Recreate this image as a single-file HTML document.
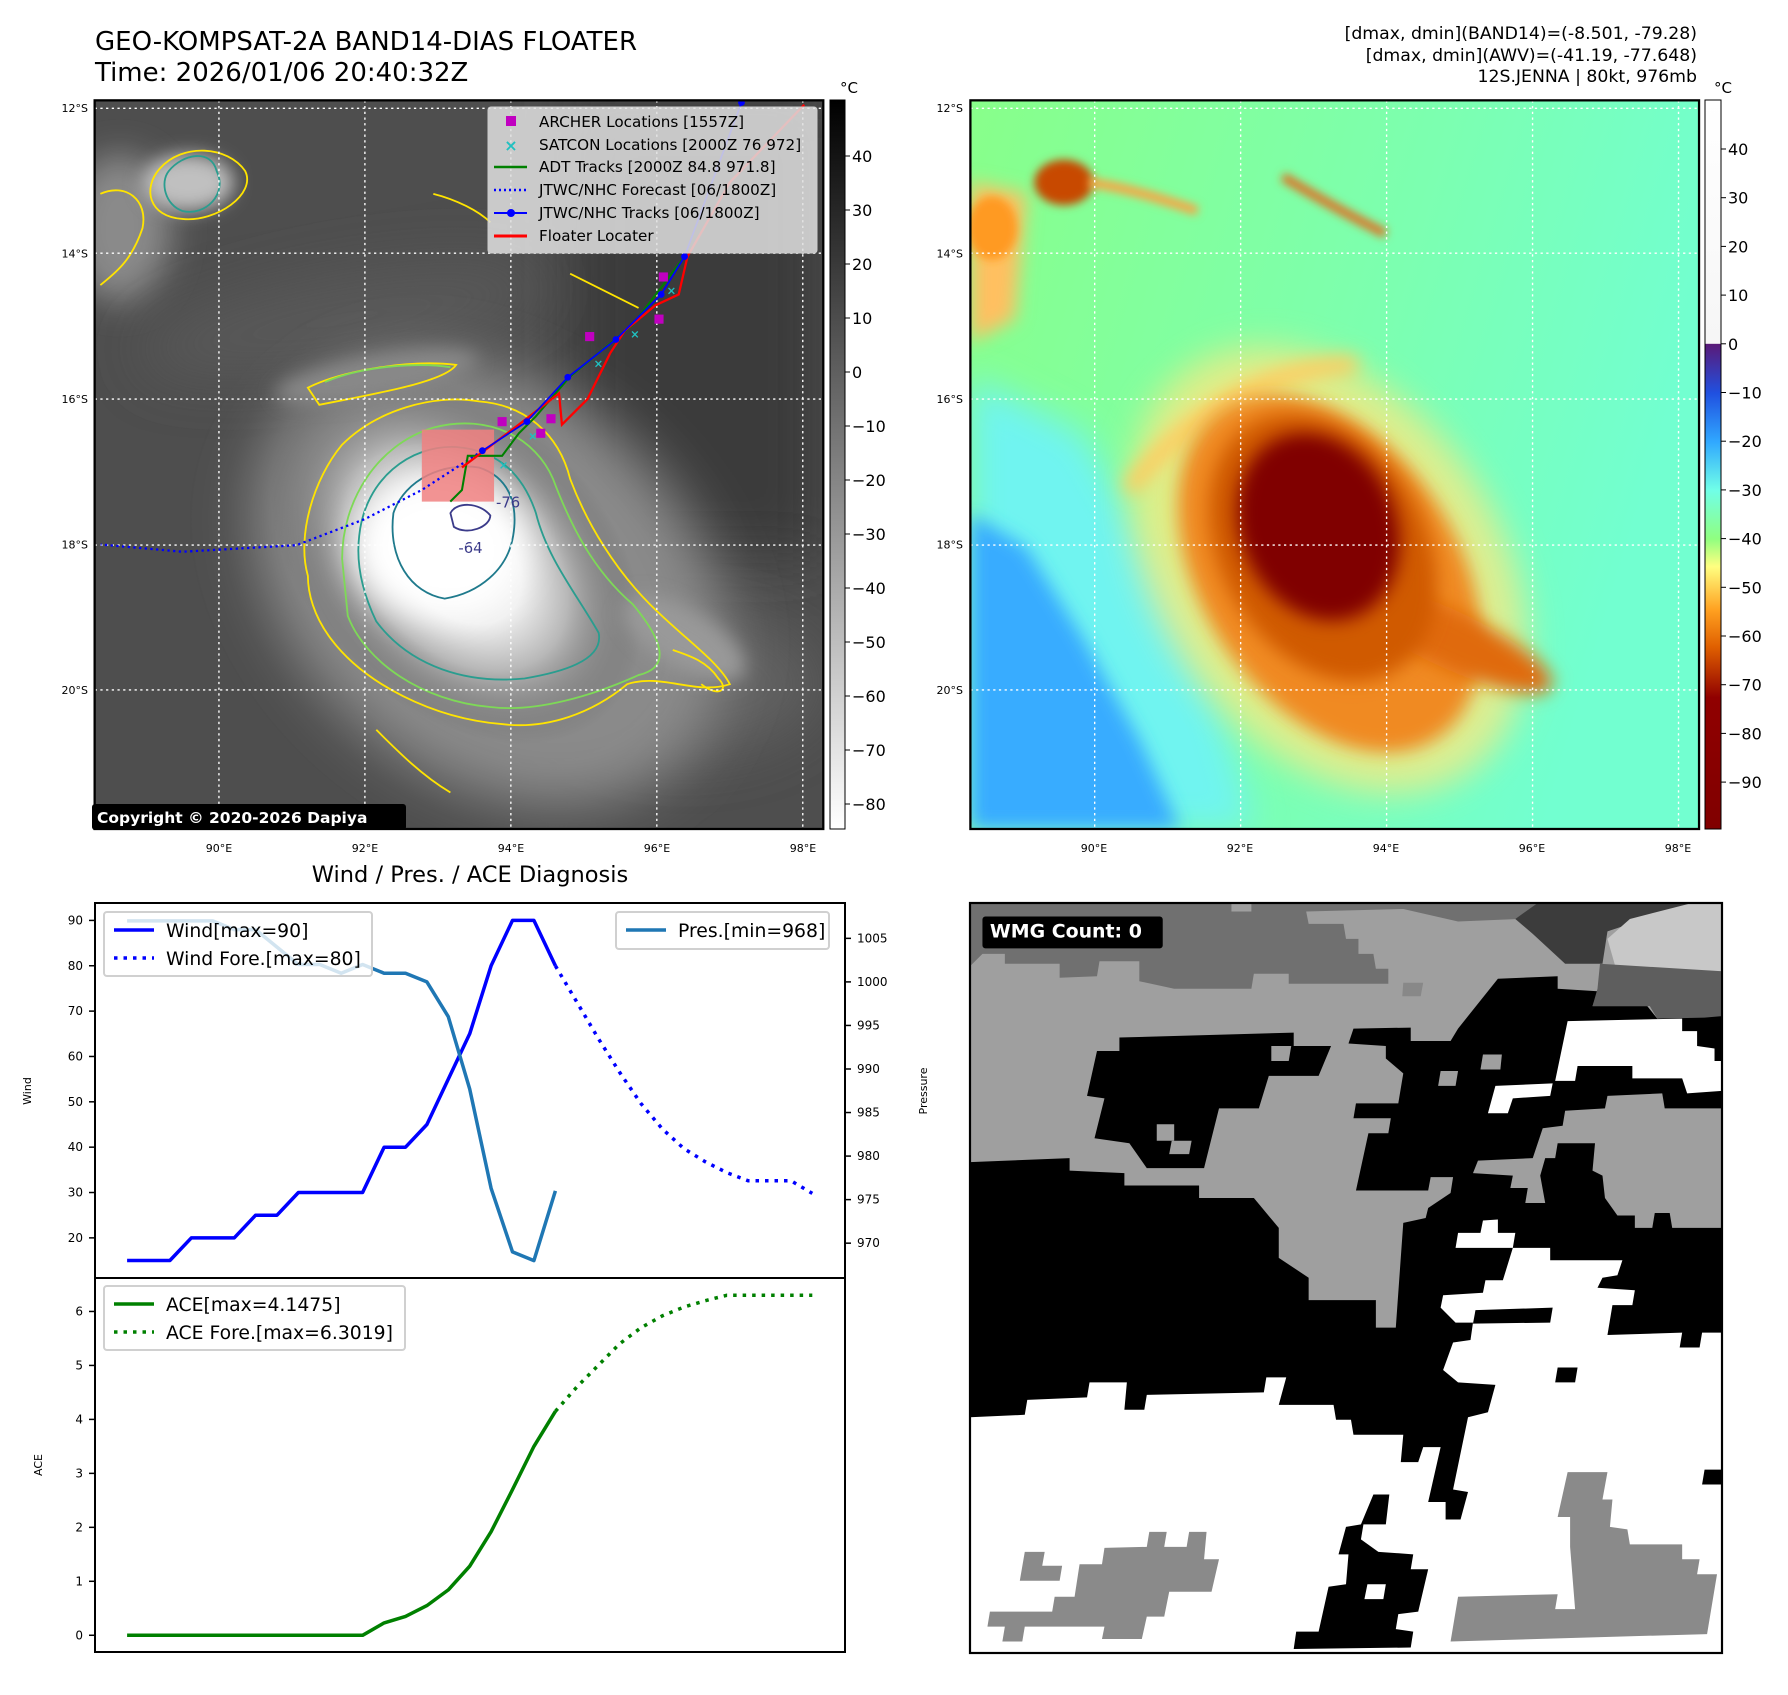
<!DOCTYPE html>
<html><head><meta charset="utf-8"><style>
html,body{margin:0;padding:0;background:#fff;}
svg text{font-family:"DejaVu Sans","Liberation Sans",sans-serif;}
</style></head><body>
<svg id="root" width="1788" height="1690" viewBox="0 0 1788 1690" xmlns="http://www.w3.org/2000/svg">
<defs>
 <filter id="b4" x="-60%" y="-60%" width="220%" height="220%"><feGaussianBlur stdDeviation="4"/></filter>
 <filter id="b8" x="-60%" y="-60%" width="220%" height="220%"><feGaussianBlur stdDeviation="8"/></filter>
 <filter id="b15" x="-60%" y="-60%" width="220%" height="220%"><feGaussianBlur stdDeviation="15"/></filter>
 <filter id="b25" x="-60%" y="-60%" width="220%" height="220%"><feGaussianBlur stdDeviation="25"/></filter>
 <clipPath id="c1"><rect x="83" y="88" width="639" height="639"/></clipPath>
 <clipPath id="c2"><rect x="851" y="88" width="639" height="639"/></clipPath>
 <radialGradient id="storm" cx="0.5" cy="0.5" r="0.5">
  <stop offset="0" stop-color="#ffffff"/><stop offset="0.35" stop-color="#f0f0f0"/>
  <stop offset="0.6" stop-color="#b8b8b8"/><stop offset="1" stop-color="#5a5a5a" stop-opacity="0"/>
 </radialGradient>
 <linearGradient id="cb1" x1="0" y1="0" x2="0" y2="1"><stop offset="0" stop-color="#000"/><stop offset="1" stop-color="#fff"/></linearGradient>
 <linearGradient id="cb2" x1="0" y1="0" x2="0" y2="1">
  <stop offset="0" stop-color="#ffffff"/><stop offset="0.334" stop-color="#f6f6f6"/>
  <stop offset="0.335" stop-color="#5a1a78"/><stop offset="0.402" stop-color="#2050e0"/>
  <stop offset="0.469" stop-color="#30a8ff"/><stop offset="0.535" stop-color="#70ffe8"/>
  <stop offset="0.602" stop-color="#90ff80"/><stop offset="0.64" stop-color="#ffff80"/>
  <stop offset="0.7" stop-color="#ffa020"/><stop offset="0.75" stop-color="#e06000"/>
  <stop offset="0.82" stop-color="#900000"/><stop offset="1" stop-color="#800000"/>
 </linearGradient>
 <linearGradient id="bg2" x1="0" y1="0" x2="1" y2="0.3">
  <stop offset="0" stop-color="#88ff8a"/><stop offset="0.6" stop-color="#7cffb0"/><stop offset="1" stop-color="#72ffd0"/>
 </linearGradient>
</defs>

<text x="95" y="50" font-size="26">GEO-KOMPSAT-2A BAND14-DIAS FLOATER</text>
<text x="95" y="81" font-size="26">Time: 2026/01/06 20:40:32Z</text>
<g font-size="17.3" text-anchor="end">
 <text x="1697" y="39">[dmax, dmin](BAND14)=(-8.501, -79.28)</text>
 <text x="1697" y="61">[dmax, dmin](AWV)=(-41.19, -77.648)</text>
 <text x="1697" y="82">12S.JENNA | 80kt, 976mb</text>
</g>

<g transform="scale(1.1403)">
 <g clip-path="url(#c1)">
  <rect x="83" y="88" width="639" height="639" fill="#4e4e4e"/>
  <rect x="500" y="88" width="222" height="400" fill="#3a3a3a" filter="url(#b25)"/>
  <ellipse cx="600" cy="600" rx="120" ry="60" fill="#606060" filter="url(#b25)"/>
  <ellipse cx="105" cy="200" rx="45" ry="65" fill="#8a8a8a" filter="url(#b15)"/>
  <ellipse cx="165" cy="160" rx="40" ry="25" fill="#c0c0c0" filter="url(#b8)"/>
  <ellipse cx="300" cy="280" rx="180" ry="40" fill="#585858" filter="url(#b25)" transform="rotate(-10 300 280)"/>
  <ellipse cx="430" cy="510" rx="230" ry="170" fill="#8a8a8a" filter="url(#b25)" transform="rotate(40 430 510)"/>
  <ellipse cx="400" cy="490" rx="190" ry="130" fill="url(#storm)" transform="rotate(45 400 490)"/>
  <ellipse cx="385" cy="480" rx="75" ry="60" fill="#fff" filter="url(#b15)"/>
  <ellipse cx="330" cy="330" rx="90" ry="18" fill="#888" filter="url(#b8)" transform="rotate(-10 330 330)"/>
  <ellipse cx="600" cy="560" rx="60" ry="25" fill="#999" filter="url(#b8)" transform="rotate(30 600 560)"/>
  <g fill="none" stroke-width="1.6">
   <path d="M270,505 C260,470 275,420 300,390 C330,360 380,345 420,352 C460,355 490,380 500,420 C515,460 540,500 570,530 C600,560 630,580 640,600 C610,610 580,590 550,600 C520,625 480,640 440,635 C380,630 320,600 290,560 C275,540 270,520 270,505 Z" stroke="#ffe400"/>
   <path d="M300,490 C300,440 330,390 380,375 C430,362 470,385 485,420 C500,460 520,500 555,530 C580,560 590,585 560,592 C520,610 470,625 430,620 C370,615 320,580 305,540 Z" stroke="#7ed957"/>
   <path d="M315,470 C320,420 360,390 400,392 C440,395 460,420 470,450 C480,490 505,520 525,555 C530,580 490,590 460,595 C410,600 360,585 330,545 C318,520 312,495 315,470 Z" stroke="#2a9d8f"/>
   <path d="M345,450 C355,420 390,405 420,410 C445,418 455,440 450,470 C445,500 420,520 390,525 C360,520 340,490 345,450 Z" stroke="#1f7a8c"/>
   <path d="M395,450 C400,440 420,440 430,452 C430,462 410,470 398,462 Z" stroke="#3b3b8a"/>
   <path d="M148,150 C160,135 185,130 190,150 C200,170 180,190 160,185 C145,180 140,160 148,150 Z" stroke="#2a9d8f"/>
   <path d="M140,148 C160,125 200,128 215,150 C225,170 190,195 160,192 C130,190 125,165 140,148 Z" stroke="#ffe400"/>
   <path d="M88,170 C110,160 130,175 125,200 C115,230 100,240 88,250" stroke="#ffe400"/>
   <path d="M270,340 C300,325 360,315 400,320 C390,335 330,345 280,355 Z" stroke="#ffe400"/>
   <path d="M285,335 C320,320 370,318 395,322" stroke="#7ed957"/>
   <path d="M380,170 C400,175 420,185 430,195 M500,240 C520,250 540,260 560,270" stroke="#ffe400"/>
   <path d="M590,570 C605,575 620,580 630,595 C640,605 630,612 615,600" stroke="#ffe400"/>
   <path d="M330,640 C350,660 370,680 395,695" stroke="#ffe400"/>
  </g>
  <text x="402" y="485" font-size="13" fill="#3b3b8a">-64</text>
  <text x="435" y="445" font-size="13" fill="#3b3b8a">-76</text>
  <g stroke="#fff" stroke-width="1.2" stroke-dasharray="2,3">
   <line x1="192" y1="88" x2="192" y2="727"/><line x1="320" y1="88" x2="320" y2="727"/><line x1="448" y1="88" x2="448" y2="727"/><line x1="576" y1="88" x2="576" y2="727"/><line x1="704" y1="88" x2="704" y2="727"/>
   <line x1="83" y1="95" x2="722" y2="95"/><line x1="83" y1="222" x2="722" y2="222"/><line x1="83" y1="350" x2="722" y2="350"/><line x1="83" y1="478" x2="722" y2="478"/><line x1="83" y1="605" x2="722" y2="605"/>
  </g>
  <g id="tracks"></g>
 </g>
 <rect x="83" y="88" width="639" height="639" fill="none" stroke="#000" stroke-width="2"/>
 <g clip-path="url(#c2)">
  <rect x="851" y="88" width="639" height="639" fill="url(#bg2)"/>
  <polygon points="851,330 950,380 1030,520 1070,620 1100,727 851,727" fill="#70f4f0" filter="url(#b15)"/>
  <polygon points="851,450 900,480 950,560 1000,650 1035,727 851,727" fill="#38acff" filter="url(#b8)"/>
  <polygon points="851,160 900,170 890,280 851,300" fill="#ffc060" filter="url(#b8)"/>
  <ellipse cx="870" cy="200" rx="22" ry="28" fill="#ff9a20" filter="url(#b4)"/>
  <ellipse cx="933" cy="160" rx="26" ry="20" fill="#c84a00" filter="url(#b4)"/>
  <path d="M955,160 C990,165 1020,175 1050,185" stroke="#ffa040" stroke-width="8" fill="none" filter="url(#b4)"/>
  <path d="M1125,155 C1150,170 1185,190 1215,205" stroke="#e07020" stroke-width="8" fill="none" filter="url(#b4)"/>
  <ellipse cx="1165" cy="500" rx="215" ry="150" fill="#ffe880" opacity="0.75" filter="url(#b15)" transform="rotate(55 1165 500)"/>
  <path d="M990,430 C1040,360 1120,320 1190,320" stroke="#ffcc60" stroke-width="16" fill="none" filter="url(#b8)"/>
  <ellipse cx="1166" cy="503" rx="172" ry="112" fill="#f08a20" filter="url(#b8)" transform="rotate(57 1166 503)"/>
  <ellipse cx="1270" cy="560" rx="100" ry="25" fill="#e06a10" filter="url(#b8)" transform="rotate(25 1270 560)"/>
  <ellipse cx="1160" cy="480" rx="125" ry="90" fill="#d05a00" filter="url(#b8)" transform="rotate(60 1160 480)"/>
  <ellipse cx="1156" cy="462" rx="85" ry="68" fill="#800000" filter="url(#b8)" transform="rotate(65 1156 462)"/>
  <g stroke="#fff" stroke-width="1.2" stroke-dasharray="2,3">
   <line x1="960" y1="88" x2="960" y2="727"/><line x1="1088" y1="88" x2="1088" y2="727"/><line x1="1216" y1="88" x2="1216" y2="727"/><line x1="1344" y1="88" x2="1344" y2="727"/><line x1="1472" y1="88" x2="1472" y2="727"/>
   <line x1="851" y1="95" x2="1490" y2="95"/><line x1="851" y1="222" x2="1490" y2="222"/><line x1="851" y1="350" x2="1490" y2="350"/><line x1="851" y1="478" x2="1490" y2="478"/><line x1="851" y1="605" x2="1490" y2="605"/>
  </g>
 </g>
 <rect x="851" y="88" width="639" height="639" fill="none" stroke="#000" stroke-width="2"/>
</g>

<g>
 <rect x="488" y="107" width="329" height="146" rx="3" fill="#e0e0e0" fill-opacity="0.85" stroke="#ccc"/>
 <g font-size="15.2" fill="#000">
  <rect x="506" y="116" width="10" height="10" fill="#c000c0"/><text x="539" y="127">ARCHER Locations [1557Z]</text>
  <text x="511" y="151" font-size="16" text-anchor="middle" fill="#20c0c0" font-weight="bold">×</text><text x="539" y="150">SATCON Locations [2000Z 76 972]</text>
  <line x1="494" y1="167" x2="527" y2="167" stroke="#008000" stroke-width="2.5"/><text x="539" y="172">ADT Tracks [2000Z 84.8 971.8]</text>
  <line x1="494" y1="190" x2="527" y2="190" stroke="#0000ff" stroke-width="2.5" stroke-dasharray="2,3"/><text x="539" y="195">JTWC/NHC Forecast [06/1800Z]</text>
  <line x1="494" y1="213" x2="527" y2="213" stroke="#0000ff" stroke-width="2"/><circle cx="511" cy="213" r="4" fill="#0000ff"/><text x="539" y="218">JTWC/NHC Tracks [06/1800Z]</text>
  <line x1="494" y1="236" x2="527" y2="236" stroke="#ff0000" stroke-width="3"/><text x="539" y="241">Floater Locater</text>
 </g>
</g>
<rect x="92" y="804" width="314" height="26" rx="3" fill="#000"/>
<text x="97" y="823" font-size="15.5" font-weight="bold" fill="#fff">Copyright © 2020-2026 Dapiya</text>

<rect x="830" y="100" width="15" height="729" fill="url(#cb1)" stroke="#000"/>
<rect x="1705" y="100" width="16" height="729" fill="url(#cb2)" stroke="#000"/>
<text x="840" y="93" font-size="15">°C</text>
<text x="1714" y="93" font-size="15">°C</text>
<g id="cbticks" font-size="16"></g>
<g id="mapaxes" font-size="11"></g>

<text x="470" y="882" font-size="22.5" text-anchor="middle">Wind / Pres. / ACE Diagnosis</text>
<g id="chart"></g>

<svg x="970" y="903" width="752" height="750" viewBox="20 28 1510 1505" preserveAspectRatio="none">
 <rect x="20" y="28" width="1510" height="1505" fill="#000"/>
 <polygon fill="#9f9f9f" points="20,28 1530,28 1530,250 1400,260 1380,235 1270,235 1280,205 1200,200 1200,175 1080,180 1000,280 985,305 905,305 905,278 790,280 780,310 855,315 855,340 890,370 880,430 795,430 790,460 865,460 860,490 820,490 795,605 940,605 945,578 990,578 985,610 940,640 935,660 890,670 875,880 835,880 835,825 700,825 700,780 640,740 640,680 590,620 480,620 480,595 330,595 330,570 220,565 220,540 20,548"/>
 <polygon fill="#000" points="320,298 670,288 670,315 745,315 720,375 620,375 600,440 520,440 490,560 375,560 340,510 270,500 290,420 255,415 275,325 320,325"/>
 <g fill="#9f9f9f"><polygon points="625,315 665,315 660,345 625,345"/><polygon points="395,472 430,472 430,505 395,505"/><polygon points="425,505 465,505 460,532 420,532"/><polygon points="965,365 1000,365 995,395 960,395"/><polygon points="1050,332 1088,332 1085,362 1045,362"/></g>
 <polygon fill="#707070" points="20,28 545,28 545,45 585,45 585,28 1160,28 1120,60 1000,65 890,40 695,45 700,70 770,70 775,100 800,100 800,130 830,130 835,160 860,160 860,190 660,190 660,170 590,170 585,200 430,200 360,185 360,145 280,145 275,175 200,178 200,150 90,150 90,130 45,130 20,155"/>
 <polygon fill="#3c3c3c" points="1160,28 1470,28 1300,85 1290,150 1215,150 1150,90 1115,60"/>
 <polygon fill="#c8c8c8" points="1470,28 1530,28 1530,165 1320,170 1300,100 1345,60"/>
 <polygon fill="#5e5e5e" points="1285,150 1530,165 1530,255 1495,258 1400,260 1385,235 1270,235 1280,200"/>
 <polygon fill="#888" points="890,188 930,188 925,215 888,215"/>
 <polygon fill="#9f9f9f" points="1300,415 1410,410 1415,440 1530,440 1530,680 1430,680 1425,650 1395,650 1390,680 1355,680 1355,655 1320,655 1295,620 1290,575 1270,565 1275,510 1200,510 1195,540 1175,540 1165,575 1175,630 1135,630 1140,600 1105,600 1110,575 1030,570 1040,545 1150,540 1170,480 1210,475 1215,445 1295,440"/>
 <polygon fill="#fff" points="1220,265 1450,260 1450,285 1480,285 1480,315 1515,320 1515,345 1530,345 1530,405 1460,410 1450,380 1350,380 1350,355 1240,355 1235,385 1195,385"/>
 <polygon fill="#fff" points="1075,395 1190,390 1185,415 1110,420 1100,450 1060,450"/>
 <polygon fill="#fff" points="20,1060 130,1055 135,1025 255,1020 260,990 335,990 330,1045 370,1045 375,1015 610,1010 615,980 655,980 640,1035 750,1035 755,1065 785,1065 790,1095 890,1095 885,1150 920,1150 930,1120 965,1120 940,1230 975,1230 975,1265 1005,1265 1020,1210 990,1205 1020,1060 1060,1050 1075,995 1000,990 970,965 990,910 1025,905 1030,870 995,870 965,840 970,815 1050,810 1055,785 1090,785 1110,720 995,720 1000,690 1045,690 1050,665 1080,663 1080,690 1115,690 1110,720 1185,720 1185,745 1330,745 1320,775 1290,780 1280,800 1355,805 1350,835 1310,835 1300,895 1450,890 1445,920 1485,920 1490,890 1530,890 1530,1533 20,1533"/>
 <polygon fill="#000" points="1035,845 1190,840 1185,870 1030,872"/>
 <polygon fill="#000" points="1200,960 1240,960 1235,990 1195,990"/>
 <polygon fill="#000" points="1495,1165 1530,1165 1530,1195 1490,1195"/>
 <polygon fill="#000" points="830,1215 862,1215 855,1275 810,1275 805,1305 840,1330 910,1335 905,1365 940,1365 920,1450 880,1455 875,1485 910,1490 905,1522 670,1525 675,1490 720,1490 740,1400 775,1395 780,1335 760,1335 775,1280 805,1275"/>
 <polygon fill="#fff" points="818,1395 855,1395 850,1425 812,1425"/>
 <g fill="#8a8a8a">
  <polygon points="130,1330 170,1330 165,1358 205,1358 200,1388 120,1388"/>
  <polygon points="240,1355 285,1355 290,1322 375,1320 380,1290 415,1290 410,1320 455,1320 460,1290 495,1290 490,1345 520,1345 505,1410 420,1410 410,1460 375,1460 365,1505 285,1505 290,1480 130,1480 125,1510 85,1510 90,1480 55,1480 60,1450 185,1450 190,1420 230,1420"/>
  <polygon points="1220,1170 1300,1170 1290,1225 1310,1225 1305,1280 1340,1285 1345,1315 1450,1315 1450,1345 1485,1345 1480,1375 1520,1375 1500,1495 985,1510 1000,1420 1200,1415 1195,1445 1235,1445 1225,1320 1225,1260 1200,1260"/>
 </g>
 <rect x="45" y="55" width="362" height="64" rx="6" fill="#000"/>
 <text x="60" y="97" font-size="38" font-weight="bold" fill="#fff">WMG Count: 0</text>
</svg>
<rect x="970" y="903" width="752" height="750" fill="none" stroke="#000" stroke-width="2.2"/>
</svg>

<script>
const windVals = [15,15,15,20,20,20,25,25,30,30,30,30,40,40,45,55,65,80,90,90,80];
const windFore = [80,72,64,56.5,49.6,44,39.7,36.8,34.4,32.6,32.6,32.6,29.8];
const presVals = [1007,1007,1007,1007,1007,1006,1006,1004,1002,1002,1001,1002,1001,1001,1000,996,987.7,976.3,969,968,976];
const aceVals = [0,0,0,0,0,0,0,0,0,0,0,0,0.23,0.35,0.55,0.84,1.28,1.92,2.7,3.5,4.15];
const aceFore = [4.15,4.6,5.0,5.4,5.7,5.92,6.08,6.2,6.3,6.3,6.3,6.3,6.3];
const windTicks = [20,30,40,50,60,70,80,90];
const presTicks = [970,975,980,985,990,995,1000,1005];
const aceTicks = [0,1,2,3,4,5,6];
const jtwcLon = [93.61,94.22,94.78,95.44,96.06,96.38,97.16];
const jtwcLat = [16.71,16.31,15.70,15.18,14.56,14.04,11.92];
const foreLon = [93.61,92.78,92.0,91.06,89.5,88.38];
const foreLat = [16.71,17.25,17.65,18.01,18.1,18.0];
const redLon = [93.33,94.11,94.66,94.7,95.05,95.36,95.56,95.98,96.30,96.42,97.0,98.02];
const redLat = [16.94,16.35,15.92,16.35,16.0,15.37,15.06,14.71,14.56,14.04,13.02,11.95];
const adtLon = [93.17,93.33,93.41,93.88,94.11,94.34,94.81,95.67,96.38];
const adtLat = [17.41,17.25,16.78,16.78,16.47,16.24,15.69,14.98,14.04];
const archLon = [93.88,94.41,94.55,95.08,96.03,96.09];
const archLat = [16.31,16.47,16.27,15.14,14.90,14.32];
const satLon = [93.9,94.3,95.2,95.7,96.2];
const satLat = [16.9,16.5,15.5,15.1,14.5];
const cb1Ticks = [40,30,20,10,0,-10,-20,-30,-40,-50,-60,-70,-80];
const cb2Ticks = [40,30,20,10,0,-10,-20,-30,-40,-50,-60,-70,-80,-90];
const latTicks = [12,14,16,18,20];
const lonTicks = [90,92,94,96,98];

const NS='http://www.w3.org/2000/svg';
function mk(tag, attrs, parent){const e=document.createElementNS(NS,tag);for(const k in attrs)e.setAttribute(k,attrs[k]);parent.appendChild(e);return e;}

const L=95,R=845,T=903,M=1278,B=1652;
function px(i){return L+(R-L)*(0.0428+i*(0.9564-0.0428)/32);}
function yW(v){return T+(M-T)*(93.84-v)/(93.84-11.15);}
function yP(p){return T+(M-T)*(1009.06-p)/(1009.06-966.0);}
function yA(a){return M+(B-M)*(6.62-a)/(6.62+0.31);}
const ch=document.getElementById('chart');
function line(vals,off,yf,color,w,dash,name){
  const pts=vals.map((v,i)=>px(i+off).toFixed(1)+','+yf(v).toFixed(1)).join(' ');
  const el=mk('polyline',{points:pts,fill:'none',stroke:color,'stroke-width':w,'stroke-linejoin':'round'},ch);
  if(dash)el.setAttribute('stroke-dasharray',dash);
  
  
}
line(windVals,0,yW,'#0000ff',3.5,null,'wind-line');
line(windFore,20,yW,'#0000ff',3.5,'3.5,6','wind-forecast-line');
line(presVals,0,yP,'#1f77b4',3.5,null,'pressure-line');
line(aceVals,0,yA,'#008000',3.5,null,'ace-line');
line(aceFore,20,yA,'#008000',3.5,'3.5,6','ace-forecast-line');
const f1=mk('rect',{x:L,y:T,width:R-L,height:M-T,fill:'none',stroke:'#000','stroke-width':2},ch);


const f2=mk('rect',{x:L,y:M,width:R-L,height:B-M,fill:'none',stroke:'#000','stroke-width':2},ch);


windTicks.forEach(v=>{const y=yW(v);mk('line',{x1:L-6,x2:L,y1:y,y2:y,stroke:'#000','stroke-width':1.5},ch);
 const t=mk('text',{x:L-12,y:y+4,'font-size':12,'text-anchor':'end'},ch);t.textContent=v;
 
 });
presTicks.forEach(v=>{const y=yP(v);mk('line',{x1:R,x2:R+6,y1:y,y2:y,stroke:'#000','stroke-width':1.5},ch);
 const t=mk('text',{x:R+12,y:y+4,'font-size':12},ch);t.textContent=v;
 
 });
aceTicks.forEach(v=>{const y=yA(v);mk('line',{x1:L-6,x2:L,y1:y,y2:y,stroke:'#000','stroke-width':1.5},ch);
 const t=mk('text',{x:L-12,y:y+4,'font-size':12,'text-anchor':'end'},ch);t.textContent=v;
 
 });
[['Wind',31,1091,'wind-axis-title'],['Pressure',927,1091,'pressure-axis-title'],['ACE',42,1465,'ace-axis-title']].forEach(a=>{
 const t=mk('text',{x:a[1],y:a[2],'font-size':11,'text-anchor':'middle',transform:'rotate(-90 '+a[1]+' '+a[2]+')'},ch);t.textContent=a[0];
 
 });
function legend(x,y,w,h,items,name){
 const g=mk('g',{},ch);
 
 
 mk('rect',{x:x,y:y,width:w,height:h,rx:3,fill:'#fff','fill-opacity':0.8,stroke:'#d0d0d0','stroke-width':2},g);
 items.forEach((it,k)=>{const cy=y+18+k*28;
  const l=mk('line',{x1:x+10,x2:x+50,y1:cy,y2:cy,stroke:it[1],'stroke-width':3.5},g);
  if(it[2])l.setAttribute('stroke-dasharray','3.5,6');
  const t=mk('text',{x:x+62,y:cy+7,'font-size':18.8},g);t.textContent=it[0];});
}
legend(104,912,268,64,[['Wind[max=90]','#0000ff',0],['Wind Fore.[max=80]','#0000ff',1]],'wind-legend');
legend(616,912,213,37,[['Pres.[min=968]','#1f77b4',0]],'pressure-legend');
legend(104,1286,301,64,[['ACE[max=4.1475]','#008000',0],['ACE Fore.[max=6.3019]','#008000',1]],'ace-legend');

function mx(lon){return 192+(lon-90)*64;}
function my(lat){return 95+(lat-12)*63.75;}
const tg=document.getElementById('tracks');
const fl=mk('rect',{x:mx(92.78),y:my(16.42),width:mx(93.77)-mx(92.78),height:my(17.41)-my(16.42),fill:'#f08080','fill-opacity':0.85},tg);


function trk(lons,lats,color,w,dash,name){
 const el=mk('polyline',{points:lons.map((v,i)=>mx(v)+','+my(lats[i])).join(' '),fill:'none',stroke:color,'stroke-width':w},tg);
 if(dash)el.setAttribute('stroke-dasharray',dash);
 
 
}
trk(foreLon,foreLat,'#0000ff',2,'2,3','jtwc-forecast-track');
trk(adtLon,adtLat,'#008000',1.8,null,'adt-track');
trk(redLon,redLat,'#ff0000',2,null,'floater-track');
trk(jtwcLon,jtwcLat,'#0000ff',1.5,null,'jtwc-track');
jtwcLon.forEach((v,i)=>{const c=mk('circle',{cx:mx(v),cy:my(jtwcLat[i]),r:3,fill:'#0000ff'},tg);
 
 });
archLon.forEach((v,i)=>{const r=mk('rect',{x:mx(v)-4,y:my(archLat[i])-4,width:8,height:8,fill:'#c000c0'},tg);
 
 });
satLon.forEach((v,i)=>{const t=mk('text',{x:mx(v),y:my(satLat[i])+4,'font-size':10,'text-anchor':'middle',fill:'#20c0c0','font-weight':'bold'},tg);t.textContent='×';
 
 });

const cbg=document.getElementById('cbticks');
cb1Ticks.forEach((v,k)=>{const y=156+k*54;
 mk('line',{x1:845,x2:850,y1:y,y2:y,stroke:'#000'},cbg);
 const t=mk('text',{x:852,y:y+6,'font-size':16},cbg);t.textContent=v<0?'−'+(-v):v;
 
 });
cb2Ticks.forEach((v,k)=>{const y=149+k*48.7;
 mk('line',{x1:1721,x2:1726,y1:y,y2:y,stroke:'#000'},cbg);
 const t=mk('text',{x:1728,y:y+6,'font-size':16},cbg);t.textContent=v<0?'−'+(-v):v;
 
 });

const ma=document.getElementById('mapaxes');
[0,875].forEach(dx=>{
 latTicks.forEach(v=>{const y=108+(v-12)*72.75;
  const t=mk('text',{x:dx+88,y:y+4,'font-size':11,'text-anchor':'end'},ma);t.textContent=v+'°S';
  
  });
 lonTicks.forEach(v=>{const x=dx+219+(v-90)*73;
  const t=mk('text',{x:x,y:852,'font-size':11,'text-anchor':'middle'},ma);t.textContent=v+'°E';
  
  });
});
</script>
</body></html>
